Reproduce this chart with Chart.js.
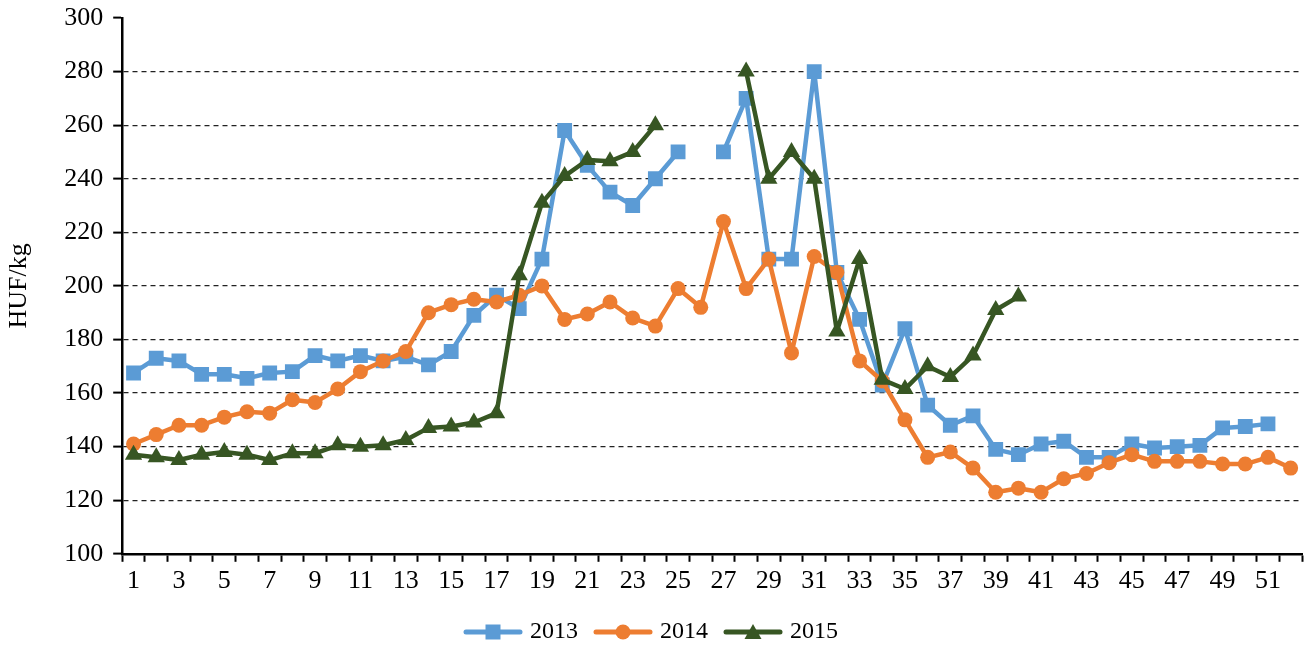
<!DOCTYPE html>
<html>
<head>
<meta charset="utf-8">
<script src="https://cdn.jsdelivr.net/npm/chart.js@4/dist/chart.umd.min.js"></script>
<style>
  html, body { margin: 0; padding: 0; background: #fff; }
  #wrap { width: 1306px; height: 645px; position: relative; }
</style>
</head>
<body>
<div id="wrap"><canvas id="c" width="1306" height="645"></canvas></div>
<script>
const weeks = ['1','2','3','4','5','6','7','8','9','10','11','12','13','14','15','16','17','18','19','20','21','22','23','24','25','26','27','28','29','30','31','32','33','34','35','36','37','38','39','40','41','42','43','44','45','46','47','48','49','50','51','52'];

const s2013 = [167.5,173,172,167,167,165.5,167.5,168,174,172,174,172,173.5,170.5,175.5,189,196.5,191.5,210,258,245,235,230,240,250,null,250,270,210,210,280,205,187.5,163,184,155.5,148,151.5,139,137,141,142,136,136,141,139.5,140,140.5,147,147.5,148.5,null];

const s2014 = [141,144.5,148,148,151,153,152.5,157.5,156.5,161.5,168,172,175.5,190,193,195,194,196.5,200,187.5,189.5,194,188,185,199,192,224,199,210,175,211,205,172,164.5,150,136,138,132,123,124.5,123,128,130,134,137,134.5,134.5,134.5,133.5,133.5,136,132];

const s2015 = [137,136,135,137,138,137,135,137.5,137.5,140.5,140,140.5,142.5,147,147.5,149,152.5,204,231,241,247,246.5,250,260,null,null,null,280,240,250,240,183,210,165,161.5,170,166,174,191,196,null,null,null,null,null,null,null,null,null,null,null,null];

const seriesNames = ['2013','2014','2015'];
const yTicks = [100,120,140,160,180,200,220,240,260,280,300];

const colors = ['#5B9BD5','#ED7D31','#375623'];
const styles = ['rect','circle','triangle'];
const radii = [10.5,7.5,10];

function legendIcon(color, style) {
  const c = document.createElement('canvas');
  c.width = 60; c.height = 20;
  const g = c.getContext('2d');
  g.strokeStyle = color; g.lineWidth = 5; g.lineCap = 'round';
  g.beginPath(); g.moveTo(3, 10); g.lineTo(57, 10); g.stroke();
  g.fillStyle = color;
  g.beginPath();
  if (style === 'rect') { g.rect(22.5, 2.5, 15, 15); }
  else if (style === 'circle') { g.arc(30, 10, 7.5, 0, Math.PI * 2); }
  else { g.moveTo(30, 2); g.lineTo(38.5, 17); g.lineTo(21.5, 17); g.closePath(); }
  g.fill();
  return c;
}

const seriesData = [s2013, s2014, s2015];
const datasets = seriesNames.map((n, i) => ({
  label: n,
  data: seriesData[i],
  borderColor: colors[i],
  backgroundColor: colors[i],
  borderWidth: 4.5,
  borderJoinStyle: 'round',
  borderCapStyle: 'round',
  pointStyle: styles[i],
  pointRadius: radii[i],
  pointHoverRadius: radii[i],
  pointBackgroundColor: colors[i],
  pointBorderColor: colors[i],
  pointBorderWidth: 0,
  tension: 0,
  spanGaps: false,
  order: 3 - i,
  _icon: legendIcon(colors[i], styles[i])
}));

Chart.defaults.font.family = '"Liberation Serif", "Times New Roman", serif';
Chart.defaults.color = '#000';

new Chart(document.getElementById('c'), {
  type: 'line',
  data: { labels: weeks, datasets: datasets },
  options: {
    responsive: false,
    animation: false,
    devicePixelRatio: 1,
    layout: { autoPadding: false, padding: { top: 0, right: 4, left: 4, bottom: -9 } },
    plugins: {
      tooltip: { enabled: false },
      legend: {
        position: 'bottom',
        labels: {
          font: { size: 24 },
          usePointStyle: true,
          pointStyleWidth: 50,
          boxHeight: 18,
          padding: 20,
          sort: (a, b) => a.datasetIndex - b.datasetIndex,
          generateLabels: (chart) => chart.data.datasets.map((d, i) => ({
            text: d.label,
            datasetIndex: i,
            pointStyle: d._icon,
            fillStyle: d.borderColor,
            strokeStyle: d.borderColor,
            lineWidth: 0,
            hidden: false,
            fontColor: '#000'
          }))
        }
      }
    },
    scales: {
      x: {
        type: 'category',
        offset: true,
        afterFit: (s) => { s.height -= 1; s.paddingRight = 0; s.paddingLeft = 0; },
        grid: {
          offset: true,
          drawOnChartArea: false,
          drawTicks: true,
          tickLength: 8,
          tickWidth: 2,
          tickColor: '#000'
        },
        border: { display: true, color: '#000', width: 2.5 },
        ticks: {
          autoSkip: false,
          maxRotation: 0,
          padding: 4,
          font: { size: 26 },
          callback: function (v, i) { return i % 2 === 0 ? this.getLabelForValue(v) : ''; }
        }
      },
      y: {
        min: yTicks[0],
        max: yTicks[yTicks.length - 1],
        afterBuildTicks: (axis) => { axis.ticks = yTicks.map(v => ({ value: v })); },
        afterFit: (s) => { s.paddingTop = 18; },
        grid: {
          drawTicks: true,
          tickLength: 9,
          tickWidth: 2,
          tickColor: '#000',
          lineWidth: 1.2,
          color: (ctx) => (ctx.tick && (ctx.tick.value === 100 || ctx.tick.value === 300)) ? 'rgba(0,0,0,0)' : '#222'
        },
        border: { display: true, color: '#000', width: 2.5, dash: [5, 4] },
        ticks: { font: { size: 26 }, padding: 10 },
        title: { display: true, text: 'HUF/kg', font: { size: 26 }, padding: { top: 0, bottom: 19 } }
      }
    }
  }
});
</script>
</body>
</html>
